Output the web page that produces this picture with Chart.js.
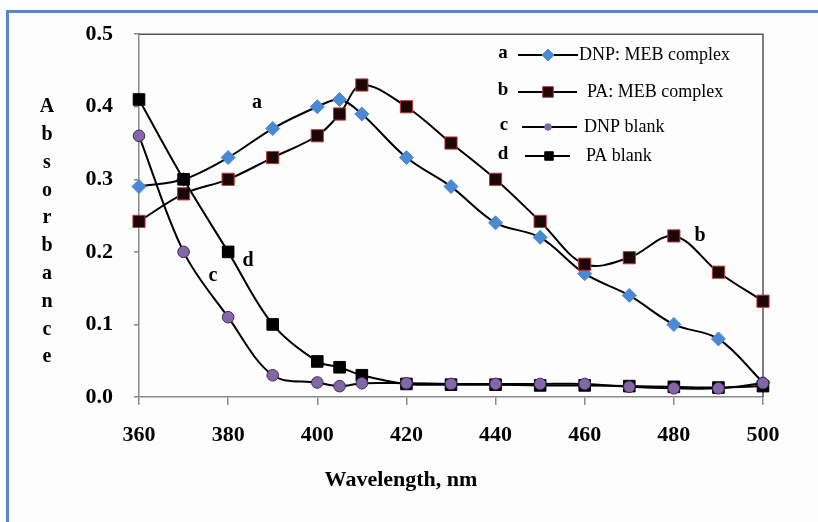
<!DOCTYPE html>
<html>
<head>
<meta charset="utf-8">
<script src="https://cdn.jsdelivr.net/npm/chart.js@4/dist/chart.umd.min.js"></script>
<style>
  html, body { margin: 0; padding: 0; background: #ffffff; }
  #wrap { width: 818px; height: 522px; position: relative; }
</style>
</head>
<body>
<div id="wrap"><canvas id="c" width="818" height="522"></canvas></div>
<script>
// ---- data ----
const wavelengths = [360, 370, 380, 390, 400, 405, 410, 420, 430, 440, 450, 460, 470, 480, 490, 500];
const dnpMebComplex = [0.29, 0.30, 0.33, 0.37, 0.40, 0.41, 0.39, 0.33, 0.29, 0.24, 0.22, 0.17, 0.14, 0.10, 0.08, 0.02];
const paMebComplex  = [0.242, 0.28, 0.30, 0.33, 0.36, 0.39, 0.43, 0.40, 0.35, 0.30, 0.242, 0.183, 0.192, 0.222, 0.172, 0.132];
const dnpBlank      = [0.36, 0.20, 0.11, 0.03, 0.02, 0.015, 0.019, 0.019, 0.018, 0.018, 0.018, 0.018, 0.014, 0.012, 0.012, 0.019];
const paBlank       = [0.41, 0.30, 0.20, 0.10, 0.049, 0.041, 0.03, 0.018, 0.017, 0.017, 0.016, 0.016, 0.015, 0.014, 0.013, 0.015];
const seriesNames = ['DNP: MEB complex', 'PA: MEB complex', 'DNP blank', 'PA blank'];
const seriesLetters = ['a', 'b', 'c', 'd'];
const xTitle = 'Wavelength, nm';
const yTitle = 'Absorbance';

function pts(vals) { return wavelengths.map((w, i) => ({ x: w, y: vals[i] })); }

const SERIF = "'Liberation Serif', 'Times New Roman', serif";

const pointDefs = [
  { pointStyle: 'rectRot', radius: 7, bg: '#4a89d4', border: '#4a89d4', bw: 1 },
  { pointStyle: 'rect', radius: 8.6, bg: '#1c0606', border: '#b8383a', bw: 1 },
  { pointStyle: 'circle', radius: 5.8, bg: '#8467a8', border: '#3d2c55', bw: 1 },
  { pointStyle: 'rect', radius: 8.2, bg: '#000000', border: '#000000', bw: 1 }
];
const allVals = [dnpMebComplex, paMebComplex, dnpBlank, paBlank];
const orders = [3, 2, 0, 1];

const datasets = allVals.map((vals, i) => ({
  label: seriesNames[i],
  data: pts(vals),
  borderColor: '#000000',
  borderWidth: 2,
  tension: 0.35,
  pointStyle: pointDefs[i].pointStyle,
  pointRadius: pointDefs[i].radius,
  pointHoverRadius: pointDefs[i].radius,
  pointBackgroundColor: pointDefs[i].bg,
  pointBorderColor: pointDefs[i].border,
  pointBorderWidth: pointDefs[i].bw,
  clip: false,
  order: orders[i]
}));

const decor = {
  id: 'decor',
  beforeDraw(chart) {
    const ctx = chart.ctx;
    ctx.save();
    ctx.fillStyle = '#ffffff';
    ctx.fillRect(0, 0, 818, 522);
    ctx.fillStyle = '#fdfdfd';
    ctx.fillRect(8, 11, 810, 511);
    ctx.strokeStyle = '#5a88c2';
    ctx.lineWidth = 3;
    ctx.beginPath();
    ctx.moveTo(7.5, 522); ctx.lineTo(7.5, 11.5); ctx.lineTo(818, 11.5);
    ctx.stroke();
    ctx.restore();
  },
  beforeDatasetsDraw(chart) {
    const { ctx, chartArea: a } = chart;
    ctx.save();
    ctx.strokeStyle = '#555555';
    ctx.lineWidth = 1.5;
    ctx.beginPath();
    ctx.moveTo(a.left, a.top); ctx.lineTo(a.right, a.top); ctx.lineTo(a.right, a.bottom);
    ctx.stroke();
    ctx.restore();
  },
  afterDraw(chart) {
    const ctx = chart.ctx;
    ctx.save();
    ctx.fillStyle = '#000000';
    ctx.textAlign = 'center';
    ctx.textBaseline = 'middle';
    // x axis title
    ctx.font = 'bold 22px ' + SERIF;
    ctx.fillText(xTitle, 401, 480);
    // y axis title, stacked letters
    ctx.font = 'bold 20px ' + SERIF;
    const letters = yTitle.split('');
    letters.forEach((ch, i) => ctx.fillText(ch, 47, 107 + i * 27.8));
    // curve labels
    ctx.font = 'bold 20px ' + SERIF;
    ctx.fillText('a', 257, 103);
    ctx.fillText('b', 700, 236);
    ctx.fillText('c', 213, 276);
    ctx.fillText('d', 248, 261);
    // legend
    const rows = [
      { y: 55, lx: 503, l0: 518, l1: 578, mx: 548, tx: 579, st: 'rectRot', r: 6, bg: '#4a89d4', bc: '#4a89d4' },
      { y: 92, lx: 503, l0: 518, l1: 577, mx: 548, tx: 587, st: 'rect', r: 7.5, bg: '#1c0606', bc: '#b8383a' },
      { y: 127, lx: 504, l0: 522, l1: 577, mx: 548, tx: 584, st: 'circle', r: 3.3, bg: '#8467a8', bc: '#8467a8' },
      { y: 156, lx: 503, l0: 525, l1: 570, mx: 549, tx: 586, st: 'rect', r: 6, bg: '#000000', bc: '#000000' }
    ];
    rows.forEach((r, i) => {
      ctx.fillStyle = '#000000';
      ctx.font = 'bold 19px ' + SERIF;
      ctx.textAlign = 'center';
      ctx.fillText(seriesLetters[i], r.lx, r.y - 2);
      ctx.strokeStyle = '#000000';
      ctx.lineWidth = 2;
      ctx.beginPath(); ctx.moveTo(r.l0, r.y); ctx.lineTo(r.l1, r.y); ctx.stroke();
      ctx.fillStyle = r.bg; ctx.strokeStyle = r.bc; ctx.lineWidth = 1;
      Chart.helpers.drawPoint(ctx, { pointStyle: r.st, radius: r.r, rotation: 0, borderWidth: 1 }, r.mx, r.y);
      ctx.fillStyle = '#000000';
      ctx.font = '18px ' + SERIF;
      ctx.textAlign = 'left';
      ctx.fillText(seriesNames[i], r.tx, r.y);
    });
    ctx.restore();
  }
};

new Chart(document.getElementById('c'), {
  type: 'line',
  data: { datasets },
  plugins: [decor],
  options: {
    responsive: false,
    animation: false,
    events: [],
    layout: { padding: { left: 0, top: 33, right: 55, bottom: 0 } },
    plugins: { legend: { display: false }, tooltip: { enabled: false }, title: { display: false } },
    scales: {
      x: {
        type: 'linear',
        min: 360, max: 500,
        afterFit: s => { s.height = 125; },
        border: { display: true, color: '#8a8a8a', width: 1.5 },
        grid: { drawOnChartArea: false, drawTicks: true, tickLength: 8, color: '#8a8a8a', lineWidth: 1.5 },
        ticks: { stepSize: 20, padding: 17, color: '#000000', font: { family: SERIF, size: 22, weight: 'bold' }, maxRotation: 0 }
      },
      y: {
        type: 'linear',
        min: 0, max: 0.5,
        afterFit: s => { s.width = 139; },
        border: { display: true, color: '#8a8a8a', width: 1.5 },
        grid: { drawOnChartArea: false, drawTicks: true, tickLength: 5, color: '#8a8a8a', lineWidth: 1.5 },
        ticks: { stepSize: 0.1, padding: 21, color: '#000000', font: { family: SERIF, size: 22, weight: 'bold' }, callback: v => Number(v).toFixed(1) }
      }
    }
  }
});
</script>
</body>
</html>
